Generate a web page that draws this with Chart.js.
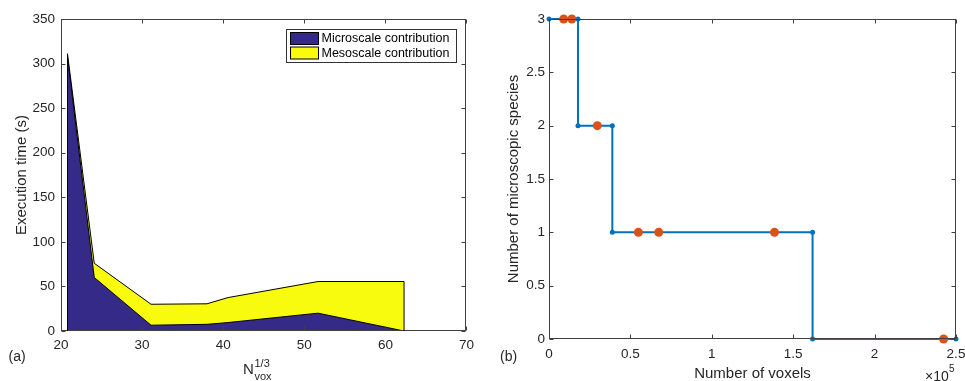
<!DOCTYPE html>
<html>
<head>
<meta charset="utf-8">
<script src="https://cdn.jsdelivr.net/npm/chart.js@4.4.1/dist/chart.umd.min.js"></script>
<style>
  html, body { margin: 0; padding: 0; background: #fff; overflow: hidden; }
  body { width: 965px; height: 381px; position: relative; }
  .panel { position: absolute; top: 0; height: 381px; }
  #pa { left: 0; width: 480px; }
  #pb { left: 485px; width: 490px; }
</style>
</head>
<body>
<div class="panel" id="pa"><canvas id="chartA" width="480" height="381"></canvas></div>
<div class="panel" id="pb"><canvas id="chartB" width="490" height="381"></canvas></div>
<script>
// (a) execution time against N_vox^(1/3)
const nVoxRoot = [20.8, 24.1, 31.1, 38.0, 40.6, 51.7, 62.3];
const microTime = [308, 60, 6.5, 7.5, 9.5, 20, 0];
const mesoTime = [3, 16, 23.5, 23, 28, 35.5, 55.5];
const xTicksA = [20, 30, 40, 50, 60, 70];
const yTicksA = [0, 50, 100, 150, 200, 250, 300, 350];

// (b) number of microscopic species against number of voxels
const stepVoxels = [0, 17800, 17800, 38900, 38900, 161900, 161900, 250000];
const stepSpecies = [3, 3, 2, 2, 1, 1, 0, 0];
const caseVoxels = [9000, 14000, 29700, 54900, 67400, 138500, 242400];
const caseSpecies = [3, 3, 2, 1, 1, 1, 0];
const xTicksB = [0, 50000, 100000, 150000, 200000, 250000];
const yTicksB = [0, 0.5, 1, 1.5, 2, 2.5, 3];

const FONT = "'Liberation Sans', Arial, sans-serif";
const TXT = '#262626';
Chart.defaults.font.family = FONT;
Chart.defaults.color = TXT;

const pts = (xs, ys) => xs.map((v, i) => ({ x: v, y: ys[i] }));
const setTicks = arr => s => { s.ticks = arr.map(v => ({ value: v })); };

// box round the plot area, ticks pointing inwards on all four sides
const matlabAxes = {
  id: 'matlabAxes',
  afterDatasetsDraw(chart) {
    const { ctx, chartArea: a, scales: { x, y } } = chart;
    const L = Math.round(a.left) + 0.5, R = Math.round(a.right) - 0.5;
    const T = Math.round(a.top) + 0.5, B = Math.round(a.bottom) - 0.5;
    ctx.save();
    ctx.strokeStyle = '#404040';
    ctx.lineWidth = 1;
    ctx.beginPath();
    x.ticks.forEach(t => {
      const px = Math.round(x.getPixelForValue(t.value)) + 0.5;
      ctx.moveTo(px, B); ctx.lineTo(px, B - 4);
      ctx.moveTo(px, T); ctx.lineTo(px, T + 4);
    });
    y.ticks.forEach(t => {
      const py = Math.round(y.getPixelForValue(t.value)) + 0.5;
      ctx.moveTo(L, py); ctx.lineTo(L + 4, py);
      ctx.moveTo(R, py); ctx.lineTo(R - 4, py);
    });
    ctx.stroke();
    ctx.strokeRect(L, T, R - L, B - T);
    ctx.restore();
  }
};

const extrasA = {
  id: 'extrasA',
  afterDatasetsDraw(chart) {
    const { ctx, scales: { x, y } } = chart;
    // vertical edges of the patches
    ctx.save();
    ctx.strokeStyle = '#000';
    ctx.lineWidth = 1;
    ctx.beginPath();
    [0, nVoxRoot.length - 1].forEach(i => {
      const px = x.getPixelForValue(nVoxRoot[i]);
      ctx.moveTo(px, y.getPixelForValue(0));
      ctx.lineTo(px, y.getPixelForValue(microTime[i] + mesoTime[i]));
    });
    ctx.stroke();
    ctx.restore();
  },
  afterDraw(chart) {
    const { ctx, chartArea: a } = chart;
    ctx.save();
    // legend
    ctx.fillStyle = '#fff';
    ctx.fillRect(286.5, 29.5, 170, 33);
    ctx.strokeStyle = '#333';
    ctx.lineWidth = 1;
    ctx.strokeRect(286.5, 29.5, 170, 33);
    chart.data.datasets.forEach((ds, i) => {
      const yy = 32.5 + i * 14.5;
      ctx.fillStyle = ds.backgroundColor;
      ctx.fillRect(290.5, yy, 28, 12);
      ctx.strokeStyle = '#000';
      ctx.strokeRect(290.5, yy, 28, 12);
      ctx.fillStyle = '#000';
      ctx.font = '12.5px ' + FONT;
      ctx.textBaseline = 'middle';
      ctx.textAlign = 'left';
      ctx.fillText(ds.label, 321.5, yy + 6.5);
    });
    // axis titles
    ctx.fillStyle = TXT;
    ctx.textBaseline = 'alphabetic';
    ctx.save();
    ctx.translate(26, (a.top + a.bottom) / 2);
    ctx.rotate(-Math.PI / 2);
    ctx.textAlign = 'center';
    ctx.font = '15px ' + FONT;
    ctx.fillText('Execution time (s)', 0, 0);
    ctx.restore();
    ctx.textAlign = 'left';
    ctx.font = '15px ' + FONT;
    ctx.fillText('N', 243, 374);
    ctx.font = '11px ' + FONT;
    ctx.fillText('1/3', 254.5, 366.5);
    ctx.fillText('vox', 254.5, 380);
    ctx.font = '14px ' + FONT;
    ctx.fillText('(a)', 8.5, 361);
    ctx.restore();
  }
};

const extrasB = {
  id: 'extrasB',
  afterDraw(chart) {
    const { ctx, chartArea: a } = chart;
    ctx.save();
    ctx.fillStyle = TXT;
    ctx.save();
    ctx.translate(33, (a.top + a.bottom) / 2);
    ctx.rotate(-Math.PI / 2);
    ctx.textAlign = 'center';
    ctx.font = '15px ' + FONT;
    ctx.fillText('Number of microscopic species', 0, 0);
    ctx.restore();
    ctx.textAlign = 'center';
    ctx.font = '15px ' + FONT;
    ctx.fillText('Number of voxels', (a.left + a.right) / 2, 378);
    ctx.textAlign = 'left';
    ctx.font = '14px ' + FONT;
    ctx.fillText('\u00d710', 440, 381);
    ctx.font = '10px ' + FONT;
    ctx.fillText('5', 464, 372);
    ctx.font = '14px ' + FONT;
    ctx.fillText('(b)', 15, 361);
    ctx.restore();
  }
};

const axisBase = {
  type: 'linear',
  grid: { display: false, drawTicks: false },
  border: { display: false },
  ticks: { color: TXT, font: { size: 13.5 }, callback: v => String(v) }
};

new Chart(document.getElementById('chartA'), {
  type: 'line',
  data: {
    datasets: [
      {
        label: 'Microscale contribution',
        data: pts(nVoxRoot, microTime),
        backgroundColor: '#352A87',
        borderColor: '#000',
        borderWidth: 1,
        fill: 'origin',
        pointRadius: 0,
        tension: 0
      },
      {
        label: 'Mesoscale contribution',
        data: pts(nVoxRoot, mesoTime),
        backgroundColor: '#F9FB0E',
        borderColor: '#000',
        borderWidth: 1,
        fill: '-1',
        pointRadius: 0,
        tension: 0
      }
    ]
  },
  options: {
    responsive: false,
    animation: false,
    events: [],
    layout: { padding: { top: 19, right: 13, left: 0, bottom: 0 } },
    plugins: { legend: { display: false }, tooltip: { enabled: false } },
    scales: {
      x: {
        ...axisBase, min: 20, max: 70,
        ticks: { ...axisBase.ticks, padding: 6, maxRotation: 0 },
        afterBuildTicks: setTicks(xTicksA),
        afterFit: s => { s.height = 50; }
      },
      y: {
        ...axisBase, min: 0, max: 350, stacked: true,
        ticks: { ...axisBase.ticks, padding: 6 },
        afterBuildTicks: setTicks(yTicksA),
        afterFit: s => { s.width = 61; }
      }
    }
  },
  plugins: [matlabAxes, extrasA]
});

new Chart(document.getElementById('chartB'), {
  type: 'scatter',
  data: {
    datasets: [
      {
        label: 'cases',
        data: pts(caseVoxels, caseSpecies),
        backgroundColor: '#D95319',
        borderColor: '#D95319',
        pointRadius: 4.5,
        borderWidth: 0,
        clip: false
      },
      {
        label: 'species',
        data: pts(stepVoxels, stepSpecies),
        showLine: true,
        borderColor: '#0072BD',
        backgroundColor: '#0072BD',
        borderWidth: 2,
        pointRadius: 2.5,
        pointBorderWidth: 0,
        clip: false
      }
    ]
  },
  options: {
    responsive: false,
    animation: false,
    events: [],
    layout: { padding: { top: 19, right: 19, left: 0, bottom: 0 } },
    plugins: { legend: { display: false }, tooltip: { enabled: false } },
    scales: {
      x: {
        ...axisBase, min: 0, max: 250000,
        ticks: { ...axisBase.ticks, padding: 7, maxRotation: 0, callback: v => String(v / 100000) },
        afterBuildTicks: setTicks(xTicksB),
        afterFit: s => { s.height = 42; }
      },
      y: {
        ...axisBase, min: 0, max: 3,
        ticks: { ...axisBase.ticks, padding: 4 },
        afterBuildTicks: setTicks(yTicksB),
        afterFit: s => { s.width = 64; }
      }
    }
  },
  plugins: [matlabAxes, extrasB]
});
</script>
</body>
</html>
